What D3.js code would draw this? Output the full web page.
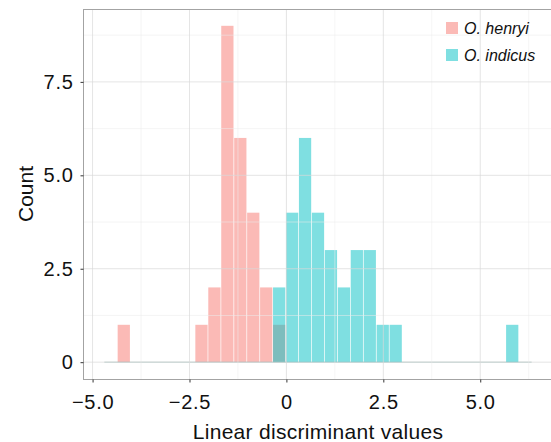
<!DOCTYPE html>
<html>
<head>
<meta charset="utf-8">
<script src="https://cdn.jsdelivr.net/npm/d3@7"></script>
<style>
  body { margin: 0; background: #fff; }
  svg { display: block; font-family: "Liberation Sans", Arial, sans-serif; }
</style>
</head>
<body>
<svg id="chart" width="551" height="442"></svg>
<script>
// histogram bins (left edges + final right edge)
const binEdges = [-4.696, -4.362, -4.028, -3.694, -3.360, -3.026, -2.692, -2.358, -2.024,
  -1.690, -1.356, -1.022, -0.688, -0.354, -0.020, 0.314, 0.648, 0.982, 1.316, 1.650,
  1.984, 2.318, 2.652, 2.986, 3.320, 3.654, 3.988, 4.322, 4.656, 4.990, 5.324, 5.658,
  5.992, 6.326];
const henryiCounts = [0, 1, 0, 0, 0, 0, 0, 1, 2, 9, 6, 4, 2, 1, 0, 0, 0, 0, 0, 0,
  0, 0, 0, 0, 0, 0, 0, 0, 0, 0, 0, 0, 0];
const indicusCounts = [0, 0, 0, 0, 0, 0, 0, 0, 0, 0, 0, 0, 0, 2, 4, 6, 4, 3, 2, 3,
  3, 1, 1, 0, 0, 0, 0, 0, 0, 0, 0, 1, 0];
const speciesNames = ["O. henryi", "O. indicus"];
const xTicks = [-5, -2.5, 0, 2.5, 5];
const xTickLabels = ["\u22125.0", "\u22122.5", "0", "2.5", "5.0"];
const xMinor = [-3.75, -1.25, 1.25, 3.75, 6.25];
const yTicks = [0, 2.5, 5, 7.5];
const yTickLabels = ["0", "2.5", "5.0", "7.5"];
const yMinor = [1.25, 3.75, 6.25, 8.75];

const svg = d3.select("#chart");
const panel = {left: 83, top: 9, right: 553, bottom: 379};

const x = d3.scaleLinear().domain([-5.247, 6.877]).range([panel.left, panel.right]);
const y = d3.scaleLinear().domain([-0.45, 9.45]).range([panel.bottom, panel.top]);

const colors = d3.scaleOrdinal().domain(speciesNames).range(["#F8766D", "#00BFC4"]);

svg.append("rect").attr("width", 551).attr("height", 442).attr("fill", "#fff");

const series = [
  {name: speciesNames[0], counts: henryiCounts},
  {name: speciesNames[1], counts: indicusCounts}
];

// bars (henryi first, indicus drawn on top)
series.forEach(s => {
  const g = svg.append("g");
  const bins = s.counts.map((c, i) => ({x0: binEdges[i], x1: binEdges[i + 1], n: c}));
  g.selectAll("rect")
    .data(bins.filter(d => d.n > 0))
    .enter().append("rect")
    .attr("x", d => x(d.x0) + 0.35)
    .attr("width", d => x(d.x1) - x(d.x0) - 0.7)
    .attr("y", d => y(d.n))
    .attr("height", d => y(0) - y(d.n))
    .attr("fill", colors(s.name))
    .attr("fill-opacity", 0.5);
  // empty bins leave a thin line along the baseline
  g.append("line")
    .attr("x1", x(binEdges[0])).attr("x2", x(binEdges[binEdges.length - 1]))
    .attr("y1", y(0)).attr("y2", y(0))
    .attr("stroke", colors(s.name)).attr("stroke-opacity", 0.3);
});

// grid lines, drawn over the bars
const grid = svg.append("g");
grid.selectAll(".xminor").data(xMinor).enter().append("line")
  .attr("x1", d => x(d)).attr("x2", d => x(d))
  .attr("y1", panel.top).attr("y2", panel.bottom)
  .attr("stroke", "#ececec").attr("stroke-opacity", 0.6).attr("stroke-width", 0.9);
grid.selectAll(".yminor").data(yMinor).enter().append("line")
  .attr("x1", panel.left).attr("x2", panel.right)
  .attr("y1", d => y(d)).attr("y2", d => y(d))
  .attr("stroke", "#ececec").attr("stroke-opacity", 0.6).attr("stroke-width", 0.9);
grid.selectAll(".xmajor").data(xTicks).enter().append("line")
  .attr("x1", d => x(d)).attr("x2", d => x(d))
  .attr("y1", panel.top).attr("y2", panel.bottom)
  .attr("stroke", "#d9d9d9").attr("stroke-opacity", 0.7);
grid.selectAll(".ymajor").data(yTicks).enter().append("line")
  .attr("x1", panel.left).attr("x2", panel.right)
  .attr("y1", d => y(d)).attr("y2", d => y(d))
  .attr("stroke", "#d9d9d9").attr("stroke-opacity", 0.7);

// panel border
svg.append("rect")
  .attr("x", panel.left + 0.5).attr("y", panel.top + 0.5)
  .attr("width", panel.right - panel.left).attr("height", panel.bottom - panel.top)
  .attr("fill", "none").attr("stroke", "#a3a3a3").attr("stroke-width", 1);

// axes
const xAxis = d3.axisBottom(x).tickValues(xTicks).tickSize(3).tickPadding(12)
  .tickFormat((d, i) => xTickLabels[i]);
const yAxis = d3.axisLeft(y).tickValues(yTicks).tickSize(3).tickPadding(7)
  .tickFormat((d, i) => yTickLabels[i]);

const gx = svg.append("g").attr("transform", "translate(0," + (panel.bottom + 0.5) + ")").call(xAxis);
const gy = svg.append("g").attr("transform", "translate(" + (panel.left + 0.5) + ",0)").call(yAxis);
[gx, gy].forEach(g => {
  g.select(".domain").remove();
  g.selectAll(".tick line").attr("stroke", "#333");
  g.selectAll(".tick text").attr("fill", "#111").style("font-size", "20px")
    .style("letter-spacing", "0.7px")
    .style("font-family", "Liberation Sans, Arial, sans-serif");
});

// axis titles
svg.append("text")
  .attr("x", (panel.left + panel.right) / 2).attr("y", 439)
  .attr("text-anchor", "middle").style("font-size", "21px").style("letter-spacing", "0.3px")
  .attr("fill", "#111")
  .text("Linear discriminant values");
svg.append("text")
  .attr("transform", "translate(33," + ((panel.top + panel.bottom) / 2) + ") rotate(-90)")
  .attr("text-anchor", "middle").style("font-size", "21px").attr("fill", "#111")
  .text("Count");

// legend
const legend = svg.append("g").attr("transform", "translate(446,22)");
speciesNames.forEach((name, i) => {
  const row = legend.append("g").attr("transform", "translate(0," + (i * 27) + ")");
  row.append("rect").attr("width", 12).attr("height", 12)
    .attr("fill", colors(name)).attr("fill-opacity", 0.5);
  row.append("text").attr("x", 18).attr("y", 12)
    .style("font-size", "16px").style("font-style", "italic").attr("fill", "#111")
    .text(name);
});
</script>
</body>
</html>
